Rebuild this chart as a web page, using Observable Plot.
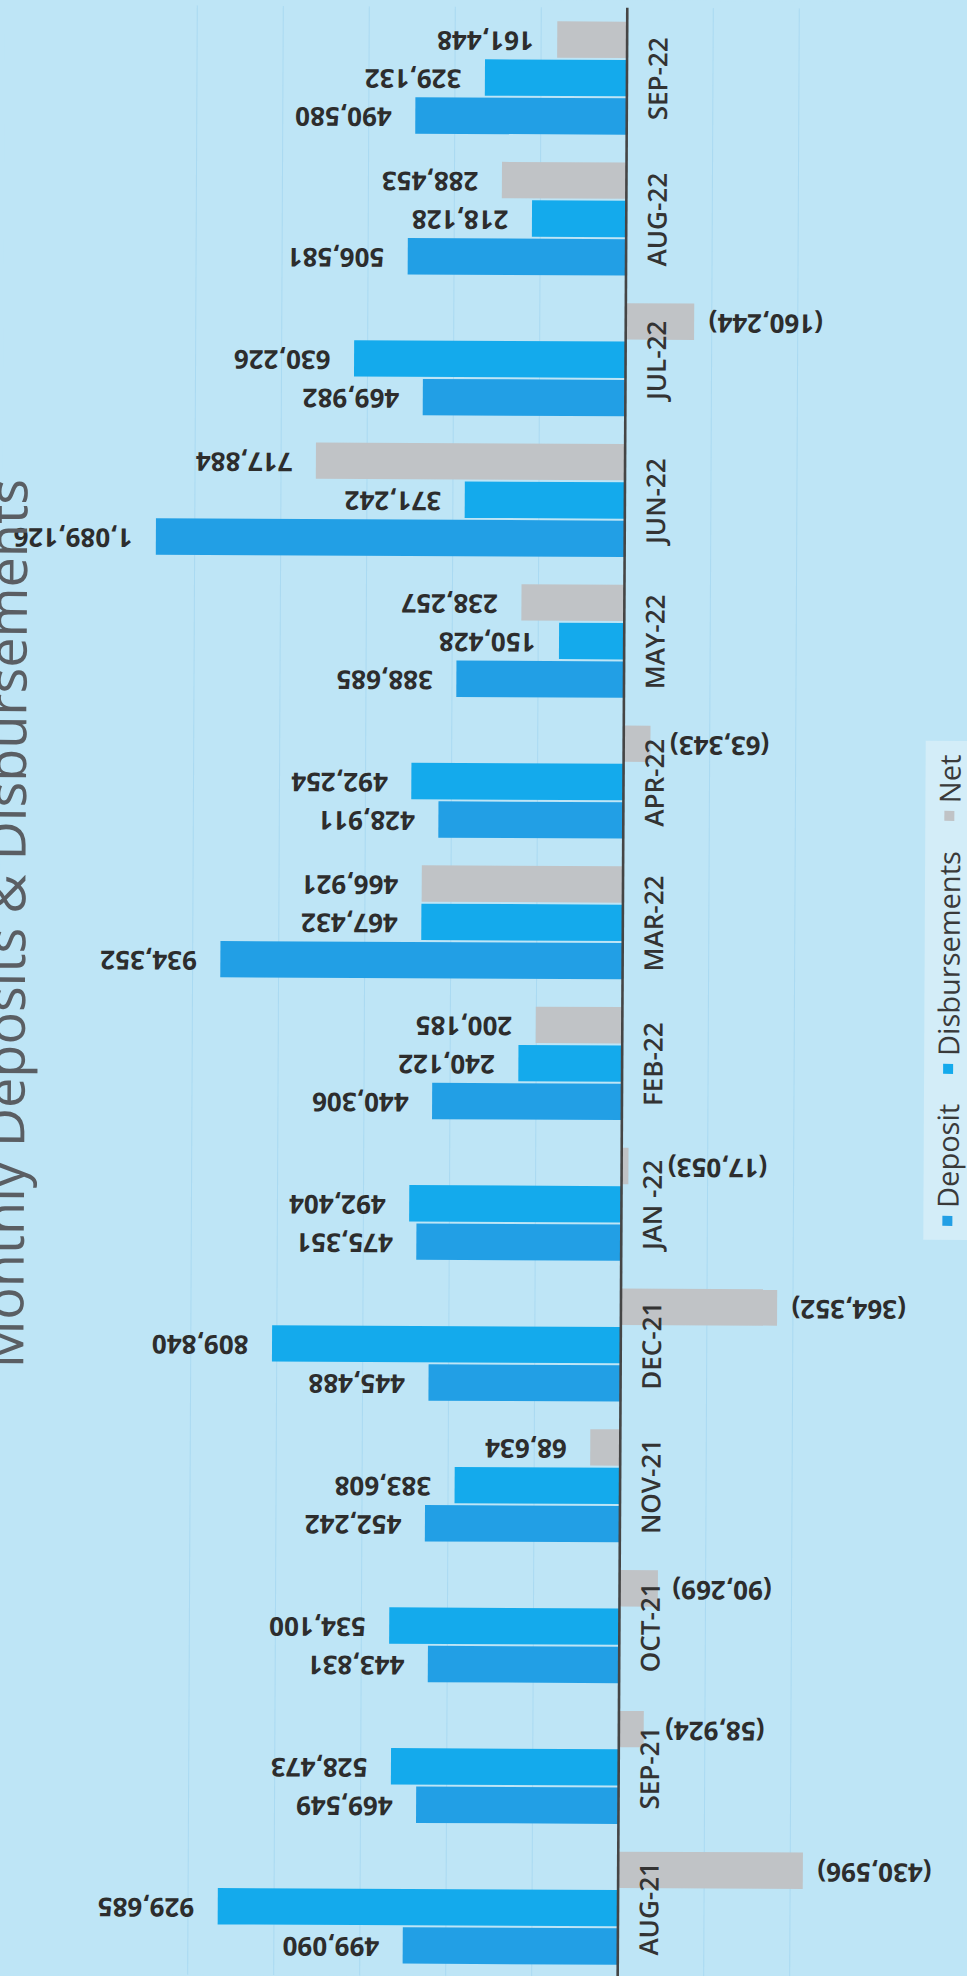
<!DOCTYPE html>
<html>
<head>
<meta charset="utf-8">
<script src="https://cdn.jsdelivr.net/npm/d3@7"></script>
<script src="https://cdn.jsdelivr.net/npm/@observablehq/plot@0.6"></script>
<style>
  html, body { margin: 0; padding: 0; background: #bee5f6; overflow: hidden; }
  #wrap { position: relative; width: 967px; height: 1976px; background: #bee5f6; transform: rotate(0.28deg); }
  #chart { position: absolute; left: 0; top: 0; }
  #title { position: absolute; left: 4px; top: 926px; width: max-content; transform: translate(-50%, -50%) rotate(-90deg);
           white-space: nowrap; font-family: "Open Sans", sans-serif; font-size: 54px; line-height: 1; color: #5a5e63; }
  #legend { position: absolute; left: 948px; top: 988px; width: max-content; transform: translate(-50%, -50%) rotate(-90deg);
            background: #d3edf8; padding: 4px 14px; white-space: nowrap; }
  #legend > div { flex-wrap: nowrap !important; white-space: nowrap !important; margin: 0 !important; min-height: 0 !important; }
  #legend, #legend div, #legend span { font-family: "Open Sans", sans-serif !important; font-size: 29px !important; color: #3a3a3a !important; }
  #legend [class$="-swatch"] { margin-right: 30px !important; }
  #legend [class$="-swatch"]:last-child { margin-right: 0 !important; }
  #legend [class$="-swatch"] > svg { margin-right: 8px !important; }
</style>
</head>
<body>
<div id="wrap">
  <div id="chart"></div>
  <div id="title">Monthly Deposits &amp; Disbursements</div>
  <div id="legend"></div>
</div>
<script>
// ---- data (top to bottom as drawn) ----
const months = ["SEP-22","AUG-22","JUL-22","JUN-22","MAY-22","APR-22","MAR-22","FEB-22","JAN -22","DEC-21","NOV-21","OCT-21","SEP-21","AUG-21"];
const deposit = [490580,506581,469982,1089126,388685,428911,934352,440306,475351,445488,452242,443831,469549,499090];
const disbursements = [329132,218128,630226,371242,150428,492254,467432,240122,492404,809840,383608,534100,528473,929685];
const net = [161448,288453,-160244,717884,238257,-63343,466921,200185,-17053,-364352,68634,-90269,-58924,-430596];
const series = ["Deposit","Disbursements","Net"];
const seriesColors = ["#229fe5","#14aaec","#c0c3c6"];
const gridValues = [-400000,-200000,200000,400000,600000,800000,1000000];

// long table built from the arrays
const rows = [];
months.forEach((m, i) => {
  rows.push({month: m, series: "Net", value: net[i]});
  rows.push({month: m, series: "Disbursements", value: disbursements[i]});
  rows.push({month: m, series: "Deposit", value: deposit[i]});
});

// band geometry (group of three bars in each month band)
const yRange = [20, 1965];
const padInner = 0.183;
const step = (yRange[1] - yRange[0]) / (months.length - padInner);
const bw = step * (1 - padInner);
const slot = bw / 3;
const slotIndex = {"Net": 0, "Disbursements": 1, "Deposit": 2};

const fmt = d3.format(",");
const labelText = d => d.value < 0 ? `(${fmt(-d.value)})` : fmt(d.value);

const marks = [
  Plot.ruleX(gridValues, {stroke: "#7fbfe9", strokeOpacity: 0.3, strokeWidth: 1})
];
for (const s of series) {
  const j = slotIndex[s];
  const data = rows.filter(r => r.series === s);
  marks.push(Plot.barX(data, {
    x: "value", y: "month", fill: "series",
    insetTop: j * slot + 1, insetBottom: (2 - j) * slot + 1
  }));
  // positive labels: to the left of the bar end
  marks.push(Plot.text(data.filter(r => r.value >= 0), {
    x: "value", y: "month", text: labelText, rotate: 180,
    textAnchor: "start", dx: -24, dy: (j - 1) * slot,
    fontFamily: "Open Sans", fontWeight: 700, fontSize: 26, fill: "#2d2d2d"
  }));
  // negative labels: to the right of the bar end
  marks.push(Plot.text(data.filter(r => r.value < 0), {
    x: d => Math.min(d.value, -75000), y: "month", text: labelText, rotate: 180,
    textAnchor: "end", dx: 14, dy: (j - 1) * slot,
    fontFamily: "Open Sans", fontWeight: 700, fontSize: 26, fill: "#2d2d2d"
  }));
}
marks.push(Plot.ruleX([0], {stroke: "#454545", strokeWidth: 2.6}));
marks.push(Plot.text(months, {
  x: () => 0, y: d => d, text: d => d, rotate: -90, dx: 32,
  fontFamily: "Open Sans", fontWeight: 600, fontSize: 26, fill: "#333"
}));

const plot = Plot.plot({
  width: 967, height: 1976,
  marginTop: 7, marginBottom: 0, marginLeft: 0, marginRight: 0,
  style: {background: "transparent", overflow: "visible"},
  x: {domain: [1200000, -800000], range: [106, 966], axis: null},
  y: {domain: months, range: yRange, paddingInner: padInner, paddingOuter: 0, round: false, axis: null},
  color: {domain: series, range: seriesColors},
  marks
});
document.getElementById("chart").appendChild(plot);
document.getElementById("legend").appendChild(plot.legend("color", {swatchSize: 10}));
</script>
</body>
</html>
